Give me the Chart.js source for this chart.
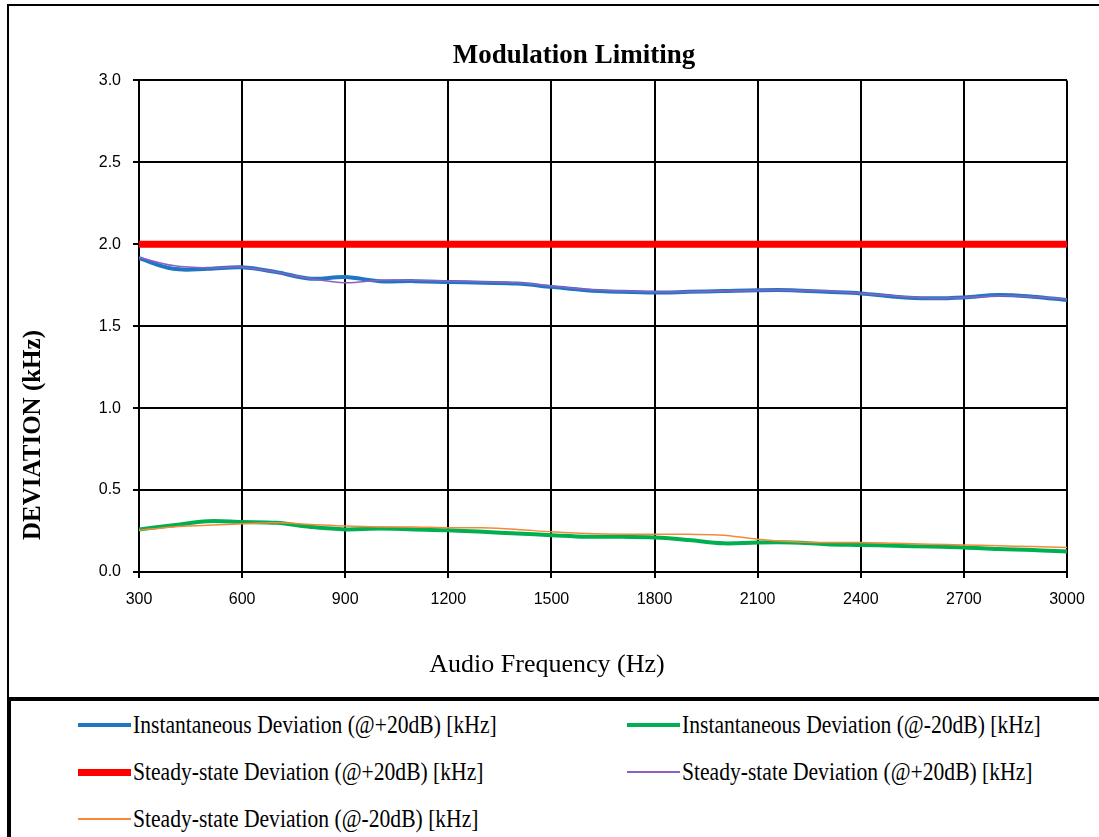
<!DOCTYPE html>
<html><head><meta charset="utf-8">
<script src="https://cdn.jsdelivr.net/npm/chart.js@4/dist/chart.umd.min.js"></script>
<style>
html,body{margin:0;padding:0;background:#fff;width:1099px;height:837px;overflow:hidden;}
#frame{position:absolute;left:7px;top:4px;width:1100px;height:691px;border-top:2px solid #000;border-left:2px solid #000;border-bottom:2px solid #000;}
#legendBox{position:absolute;left:7px;top:699px;width:1100px;height:140px;border-top:2px solid #000;border-left:4px solid #000;}
#c{position:absolute;left:0;top:0;}
.item{position:absolute;display:flex;align-items:center;height:30px;font-family:"Liberation Serif","Times New Roman",serif;font-size:21.6px;color:#000;white-space:nowrap;}
.item .tx{display:inline-block;transform:scaleY(1.15);}
.sw{width:53px;margin-right:2px;}
</style></head>
<body>
<div id="frame"></div>
<div id="legendBox"></div>
<canvas id="c" width="1099" height="697"></canvas>
<div id="legend"></div>
<script>
const title = "Modulation Limiting";
const xTitle = "Audio Frequency (Hz)";
const yTitle = "DEVIATION (kHz)";
const freqs = [300,400,500,600,700,800,900,1000,1100,1200,1300,1400,1500,1600,1700,1800,1900,2000,2100,2200,2300,2400,2500,2600,2700,2800,2900,3000];
const instPlus20 = [1.915,1.85,1.85,1.86,1.83,1.79,1.80,1.775,1.775,1.77,1.765,1.76,1.74,1.72,1.71,1.705,1.71,1.715,1.72,1.72,1.71,1.70,1.68,1.67,1.675,1.69,1.68,1.66];
const instMinus20 = [0.26,0.285,0.31,0.305,0.30,0.275,0.26,0.265,0.26,0.255,0.245,0.235,0.225,0.215,0.215,0.21,0.195,0.175,0.18,0.18,0.17,0.165,0.16,0.155,0.15,0.14,0.135,0.125];
const ssLimit = [2.0,2.0,2.0,2.0,2.0,2.0,2.0,2.0,2.0,2.0,2.0,2.0,2.0,2.0,2.0,2.0,2.0,2.0,2.0,2.0,2.0,2.0,2.0,2.0,2.0,2.0,2.0,2.0];
const ssPlus20 = [1.92,1.87,1.855,1.86,1.83,1.79,1.765,1.78,1.78,1.775,1.77,1.765,1.745,1.725,1.715,1.71,1.71,1.715,1.72,1.72,1.715,1.70,1.685,1.67,1.675,1.685,1.68,1.665];
const ssMinus20 = [0.255,0.275,0.285,0.295,0.30,0.29,0.28,0.275,0.275,0.27,0.27,0.26,0.245,0.235,0.23,0.23,0.23,0.225,0.20,0.185,0.18,0.18,0.175,0.17,0.165,0.16,0.155,0.15];
const seriesNames = ["Instantaneous Deviation (@+20dB) [kHz]","Instantaneous Deviation (@-20dB) [kHz]","Steady-state Deviation (@+20dB) [kHz]","Steady-state Deviation (@+20dB) [kHz]","Steady-state Deviation (@-20dB) [kHz]"];
const seriesData = [instPlus20, instMinus20, ssLimit, ssPlus20, ssMinus20];
const seriesColors = ["#1f77c4","#00b050","#ff0000","#8e5fc4","#f28a3a"];
const seriesWidths = [4,4,7,1.5,1.5];
const seriesOrder = [2,2,1,0,0];

const datasets = seriesData.map((d,i)=>({
  label: seriesNames[i],
  data: freqs.map((f,j)=>({x:f,y:d[j]})),
  borderColor: seriesColors[i],
  backgroundColor: seriesColors[i],
  borderWidth: seriesWidths[i],
  pointRadius: 0,
  tension: i===2 ? 0 : 0.35,
  fill: false,
  order: seriesOrder[i]
}));

const axisTitlePlugin = {
  id:'axisTitlePlugin',
  afterDraw(chart){
    const ctx = chart.ctx;
    ctx.save();
    ctx.fillStyle = '#000';
    ctx.textAlign = 'center';
    ctx.textBaseline = 'middle';
    ctx.font = '26px "Liberation Serif", "Times New Roman", serif';
    ctx.fillText(xTitle, 547, 665);
    ctx.translate(34, 435);
    ctx.rotate(-Math.PI/2);
    ctx.font = 'bold 25px "Liberation Serif", "Times New Roman", serif';
    ctx.fillText(yTitle, 0, 0);
    ctx.restore();
  }
};

new Chart(document.getElementById('c'), {
  type: 'line',
  data: { datasets },
  plugins: [axisTitlePlugin],
  options: {
    responsive: false,
    animation: false,
    layout: { padding: { top: 40, left: 81, right: 32, bottom: 0 } },
    plugins: {
      legend: { display: false },
      tooltip: { enabled: false },
      title: { display: true, text: title, color:'#000',
        font: { family: '"Liberation Serif", "Times New Roman", serif', size: 27, weight: 'bold', lineHeight: 1.2 },
        padding: { top: 0, bottom: 8 } }
    },
    scales: {
      x: { type: 'linear', min: 300, max: 3000,
        afterFit(s){ s.height = 125; },
        ticks: { stepSize: 300, color:'#000', padding: 12, maxRotation: 0, callback: v => String(v),
          font: { family: '"Liberation Sans", Arial, sans-serif', size: 16 } },
        grid: { color:'#000', lineWidth: 2, tickLength: 6, drawTicks: true },
        border: { color:'#000', width: 2 }
      },
      y: { min: 0, max: 3,
        afterFit(s){ s.width = 58; },
        ticks: { stepSize: 0.5, color:'#000', padding: 12, callback: v => v.toFixed(1),
          font: { family: '"Liberation Sans", Arial, sans-serif', size: 16 } },
        grid: { color:'#000', lineWidth: 2, tickLength: 6, drawTicks: true },
        border: { color:'#000', width: 2 }
      }
    }
  }
});

const legendPos = [[78,710],[627,710],[78,757],[627,757],[78,804]];
const leg = document.getElementById('legend');
seriesNames.forEach((n,i)=>{
  const it = document.createElement('div');
  it.className = 'item';
  it.style.left = legendPos[i][0]+'px';
  it.style.top = legendPos[i][1]+'px';
  const sw = document.createElement('span');
  sw.className = 'sw';
  sw.style.height = seriesWidths[i]+'px';
  sw.style.background = seriesColors[i];
  const tx = document.createElement('span');
  tx.className = 'tx';
  tx.textContent = n;
  it.appendChild(sw); it.appendChild(tx);
  leg.appendChild(it);
});
</script>
</body></html>
